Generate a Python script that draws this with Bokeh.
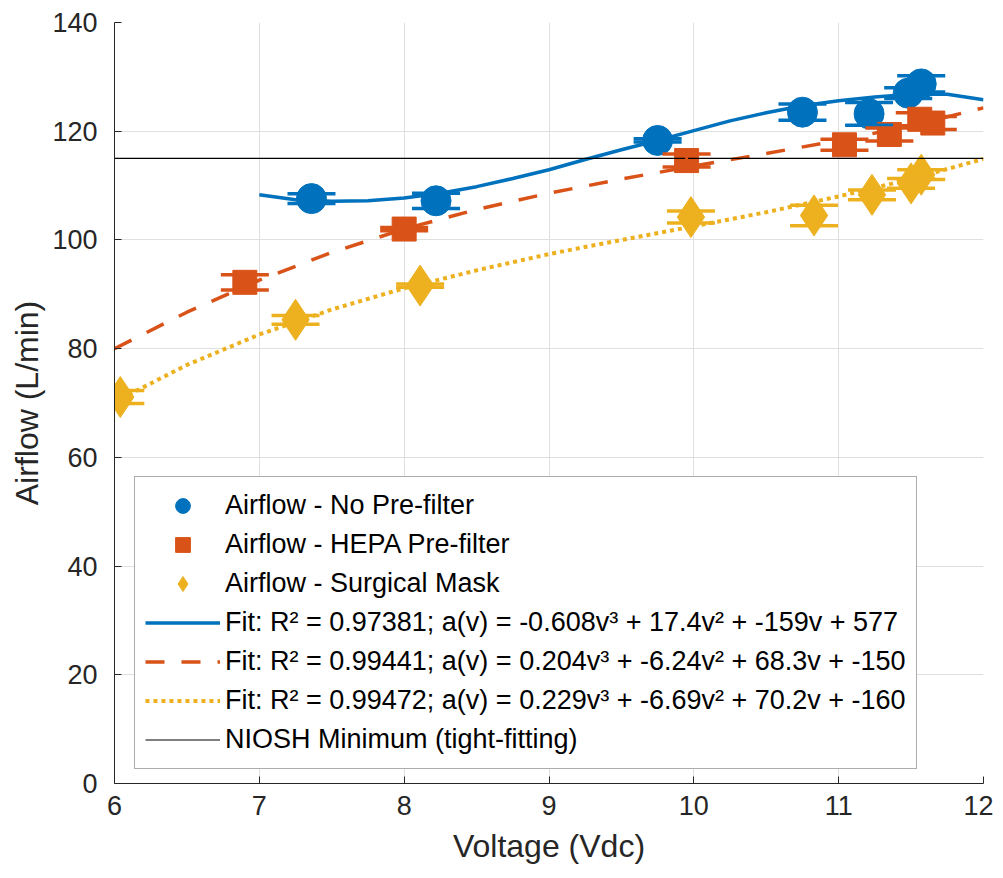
from bokeh.plotting import figure
from bokeh.models import (Range1d, Whisker, TeeHead, ColumnDataSource, Legend,
                          LegendItem, FixedTicker)
from bokeh.embed import file_html
from bokeh.resources import INLINE

# ---------------- data ----------------
x_ticks = [6, 7, 8, 9, 10, 11, 12]
y_ticks = [0, 20, 40, 60, 80, 100, 120, 140]

blue_v = [7.36, 8.22, 9.75, 10.75, 11.21, 11.48, 11.57]
blue_a = [107.6, 107.2, 118.3, 123.5, 123.2, 127.0, 128.7]
blue_e = [0.9, 1.4, 0.3, 1.5, 2.1, 1.0, 1.5]

orange_v = [6.90, 8.00, 9.95, 11.04, 11.35, 11.56, 11.65]
orange_a = [92.2, 102.0, 114.6, 117.5, 119.4, 122.2, 121.5]
orange_e = [1.4, 0.3, 1.2, 1.0, 1.2, 1.2, 1.2]

yellow_v = [6.04, 7.25, 8.11, 9.98, 10.83, 11.23, 11.50, 11.57]
yellow_a = [71.1, 85.3, 91.6, 104.2, 104.5, 108.3, 110.4, 112.0]
yellow_e = [1.2, 0.8, 0.3, 1.1, 1.9, 0.9, 0.9, 0.9]

# fitted curves
blue_fit_v = [7.0, 7.25, 7.5, 7.75, 8.0, 8.25, 8.5, 8.75, 9.0, 9.25, 9.5, 9.75,
              10.0, 10.25, 10.5, 10.75, 11.0, 11.25, 11.5, 11.75, 12.0]
blue_fit_a = [108.3, 107.4, 107.1, 107.2, 107.7, 108.6, 109.8, 111.3, 112.9, 114.8,
              116.6, 118.3, 120.1, 121.9, 123.4, 124.7, 125.6, 126.3, 126.8, 126.8, 125.8]

orange_fit_v = [6.0, 6.5, 7.0, 7.5, 8.0, 8.5, 9.0, 9.5, 10.0, 10.5, 11.0, 11.5, 12.0]
orange_fit_a = [80.0, 86.7, 92.6, 97.7, 102.0, 105.6, 108.6, 111.2, 113.6, 115.9, 118.3, 121.0, 124.3]

yellow_fit_v = [6.0, 6.5, 7.0, 7.5, 8.0, 8.5, 9.0, 9.5, 10.0, 10.5, 11.0, 11.5, 12.0]
yellow_fit_a = [70.2, 77.0, 82.6, 87.2, 91.1, 94.4, 97.4, 100.0, 102.5, 105.1, 108.0, 111.2, 114.9]

niosh_v = [6, 12]
niosh_a = [115, 115]

labels = [
    "Airflow - No Pre-filter",
    "Airflow - HEPA Pre-filter",
    "Airflow - Surgical Mask",
    "Fit: R\u00b2 = 0.97381; a(v) = -0.608v\u00b3 + 17.4v\u00b2 + -159v + 577",
    "Fit: R\u00b2 = 0.99441; a(v) = 0.204v\u00b3 + -6.24v\u00b2 + 68.3v + -150",
    "Fit: R\u00b2 = 0.99472; a(v) = 0.229v\u00b3 + -6.69v\u00b2 + 70.2v + -160",
    "NIOSH Minimum (tight-fitting)",
]

BLUE = "#0072BD"
ORANGE = "#D95319"
YELLOW = "#EDB120"
FONT = "Liberation Sans"
TXT = "#262626"

p = figure(width=993, height=870, output_backend="svg", toolbar_location=None,
           x_range=Range1d(6, 12), y_range=Range1d(0, 140),
           min_border_left=114, min_border_top=22, min_border_right=10,
           min_border_bottom=87)
p.outline_line_color = None
p.background_fill_color = "white"

for ax in (p.xaxis[0], p.yaxis[0]):
    ax.axis_line_color = TXT
    ax.major_tick_line_color = TXT
    ax.major_tick_in = 7
    ax.major_tick_out = 0
    ax.minor_tick_line_color = None
    ax.major_label_text_font = FONT
    ax.major_label_text_font_size = "27px"
    ax.major_label_text_color = TXT
    ax.axis_label_text_font = FONT
    ax.axis_label_text_font_size = "32px"
    ax.axis_label_text_font_style = "normal"
    ax.axis_label_text_color = TXT

p.xaxis.ticker = FixedTicker(ticks=x_ticks)
p.yaxis.ticker = FixedTicker(ticks=y_ticks)
p.xaxis.axis_label = "Voltage (Vdc)"
p.yaxis.axis_label = "Airflow (L/min)"
p.xaxis.major_label_standoff = 12
p.yaxis.major_label_standoff = 17
p.xaxis.axis_label_standoff = 10
p.yaxis.axis_label_standoff = 4

for g in (p.xgrid[0], p.ygrid[0]):
    g.grid_line_color = "#dfdfdf"
    g.grid_line_width = 1

# fitted curves
r_fit1 = p.line(blue_fit_v, blue_fit_a, line_color=BLUE, line_width=3.5)
r_fit2 = p.line(orange_fit_v, orange_fit_a, line_color=ORANGE, line_width=3.5,
                line_dash="19 17")
r_fit3 = p.line(yellow_fit_v, yellow_fit_a, line_color=YELLOW, line_width=4,
                line_dash="4 4")


def series(v, a, e, color, marker, size):
    src = ColumnDataSource(dict(v=v, a=a,
                                lo=[ai - ei for ai, ei in zip(a, e)],
                                hi=[ai + ei for ai, ei in zip(a, e)]))
    w = Whisker(source=src, base="v", upper="hi", lower="lo", dimension="height",
                line_color=color, line_width=3, level="glyph",
                upper_head=TeeHead(size=48, line_color=color, line_width=3.5),
                lower_head=TeeHead(size=48, line_color=color, line_width=3.5))
    p.add_layout(w)
    r = p.scatter("v", "a", source=src, marker=marker, size=size,
                  fill_color=color, line_color=color, line_width=1)
    return r


r_blue = series(blue_v, blue_a, blue_e, BLUE, "circle", 30)
r_orange = series(orange_v, orange_a, orange_e, ORANGE, "square", 24)
r_yellow = series(yellow_v, yellow_a, yellow_e, YELLOW, "diamond", 41)

r_niosh = p.line(niosh_v, niosh_a, line_color="black", line_width=1.2)

legend = Legend(items=[
    LegendItem(label=labels[0], renderers=[r_blue]),
    LegendItem(label=labels[1], renderers=[r_orange]),
    LegendItem(label=labels[2], renderers=[r_yellow]),
    LegendItem(label=labels[3], renderers=[r_fit1]),
    LegendItem(label=labels[4], renderers=[r_fit2]),
    LegendItem(label=labels[5], renderers=[r_fit3]),
    LegendItem(label=labels[6], renderers=[r_niosh]),
], location=(20, 14))
legend.label_text_font = FONT
legend.label_text_font_size = "27px"
legend.label_text_color = "black"
legend.glyph_width = 75
legend.glyph_height = 37
legend.label_height = 37
legend.spacing = 2
legend.padding = 10
legend.margin = 0
legend.label_standoff = 5
legend.border_line_color = "#5a5a5a"
legend.border_line_width = 1
legend.background_fill_color = "white"
legend.background_fill_alpha = 1
p.add_layout(legend, "center")

open("out.html", "w").write(file_html(p, INLINE))
